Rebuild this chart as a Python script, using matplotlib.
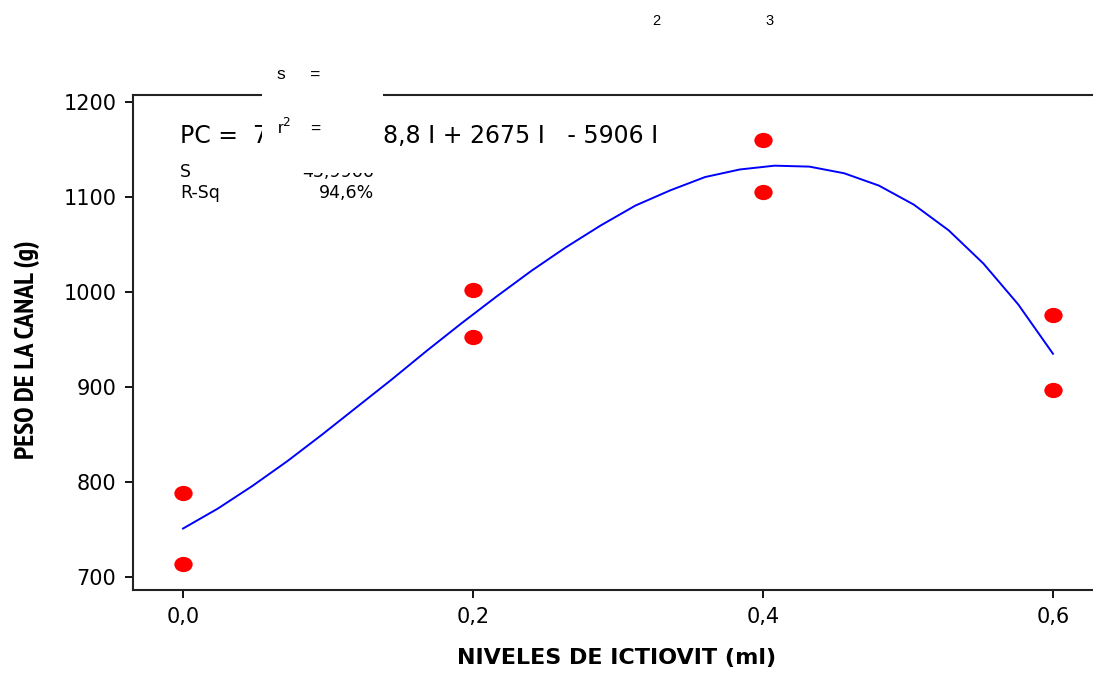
import numpy as np
import matplotlib.pyplot as plt
import matplotlib.font_manager as fm
from matplotlib.patches import Rectangle
from matplotlib.markers import MarkerStyle
from matplotlib.transforms import Affine2D

plt.rcParams['font.family'] = ['DejaVu Sans']

# datos observados
niveles = [0.0, 0.0, 0.2, 0.2, 0.4, 0.4, 0.6, 0.6]
peso = [788, 714, 1002, 953, 1160, 1105, 976, 897]

# curva ajustada
curva_x = [0.0, 0.024, 0.048, 0.072, 0.096, 0.12, 0.144, 0.168, 0.192, 0.216,
           0.24, 0.264, 0.288, 0.312, 0.336, 0.36, 0.384, 0.408, 0.432, 0.456,
           0.48, 0.504, 0.528, 0.552, 0.576, 0.6]
curva_y = [751, 772, 796, 822, 850, 879, 908, 938, 967, 995,
           1022, 1047, 1070, 1091, 1107, 1121, 1129, 1133, 1132, 1125,
           1112, 1092, 1065, 1030, 987, 935]

xticks = [0.0, 0.2, 0.4, 0.6]
xtick_labels = ['0,0', '0,2', '0,4', '0,6']
yticks = [700, 800, 900, 1000, 1100, 1200]


# buscar una fuente negrita condensada, si existe
def condensed_bold():
    found = []
    for f in fm.fontManager.ttflist:
        w = f.weight
        bold = (w == 'bold') or (isinstance(w, int) and w >= 700)
        narrow = ('Narrow' in f.name or 'Condensed' in f.name
                  or f.stretch in ('condensed', 'semi-condensed', 'extra-condensed', 'ultra-condensed'))
        if bold and narrow:
            found.append(f)
    if not found:
        return None
    found.sort(key=lambda f: (0 if 'Narrow' in f.name else 1, f.fname))
    return found[0].fname


cond = condensed_bold()

fig = plt.figure(figsize=(10.93, 6.75), dpi=100)
ax = fig.add_axes([133 / 1093, 85 / 675, 1 - 133 / 1093, 495 / 675])

ax.plot(curva_x, curva_y, color='#0000ff', lw=1.4, zorder=2)
mk = MarkerStyle('o', transform=Affine2D().scale(1.2, 1.0))
ax.plot(niveles, peso, linestyle='none', marker=mk, markersize=11,
        color='#ff0000', markeredgewidth=0, zorder=3)

ax.set_xlim(-0.0345, 0.6276)
ax.set_ylim(686.3, 1207.4)
ax.set_xticks(xticks)
ax.set_xticklabels(xtick_labels)
ax.set_yticks(yticks)
ax.tick_params(labelsize=15, length=6, width=1.3, direction='out', pad=6)
for s in ['left', 'bottom', 'top']:
    ax.spines[s].set_linewidth(1.5)
    ax.spines[s].set_color('#222222')
ax.spines['right'].set_visible(False)

xl_font = fm.FontProperties(family='DejaVu Sans', weight='bold', size=16)
if cond:
    yl_font = fm.FontProperties(fname=cond, size=20)
else:
    yl_font = fm.FontProperties(family='DejaVu Sans', weight='bold', size=12.5)
ax.set_xlabel('NIVELES DE ICTIOVIT (ml)', fontproperties=xl_font)
ax.set_ylabel('PESO DE LA CANAL (g)', fontproperties=yl_font)
ax.xaxis.set_label_coords(0.504, -0.117)
ax.yaxis.set_label_coords(-0.097, 0.485)

# ecuacion y estadisticos
tf = fig.transFigure
W, H = 1093, 675
fig.text(180 / W, 1 - 143 / H, 'PC =  7', fontsize=17)
fig.text(658 / W, 1 - 143 / H, '28,8 I + 2675 I   - 5906 I', fontsize=17,
         ha='right')
fig.text(180 / W, 1 - 177 / H, 'S', fontsize=12.5)
fig.text(180 / W, 1 - 198 / H, 'R-Sq', fontsize=12.5)
fig.text(374 / W, 1 - 177 / H, '43,9966', fontsize=12.5, ha='right')
fig.text(374 / W, 1 - 198 / H, '94,6%', fontsize=12.5, ha='right')

# recuadro blanco superpuesto
fig.add_artist(Rectangle((262 / W, 1 - 173 / H), 121 / W, 118 / H,
                         transform=tf, facecolor='white', edgecolor='none',
                         zorder=5))
fig.text(277 / W, 1 - 79 / H, 's     =', fontsize=12.5, zorder=6,
         family='Liberation Sans')
fig.text(277 / W, 1 - 134 / H, r'r$^2$    =', fontsize=12.5, zorder=6,
         family='Liberation Sans')
fig.text(652 / W, 1 - 25 / H, '2', fontsize=10.5, family='Liberation Sans')
fig.text(765 / W, 1 - 25 / H, '3', fontsize=10.5, family='Liberation Sans')

fig.savefig('out.png', dpi=100)
